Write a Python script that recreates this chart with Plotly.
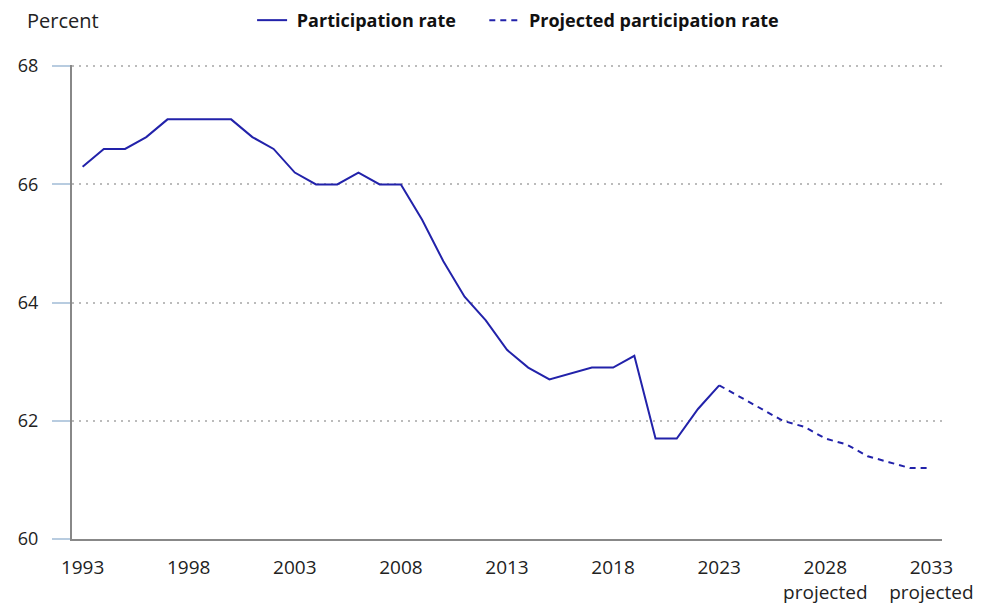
import plotly.graph_objects as go

years_actual = list(range(1993, 2024))
rate_actual = [66.3, 66.6, 66.6, 66.8, 67.1, 67.1, 67.1, 67.1, 66.8, 66.6,
               66.2, 66.0, 66.0, 66.2, 66.0, 66.0, 65.4, 64.7, 64.1, 63.7,
               63.2, 62.9, 62.7, 62.8, 62.9, 62.9, 63.1, 61.7, 61.7, 62.2,
               62.6]
years_proj = list(range(2023, 2034))
rate_proj = [62.6, 62.4, 62.2, 62.0, 61.9, 61.7, 61.6, 61.4, 61.3, 61.2, 61.2]

tick_vals = [1993, 1998, 2003, 2008, 2013, 2018, 2023, 2028, 2033]
tick_text = ["1993", "1998", "2003", "2008", "2013", "2018", "2023",
             "2028<br>projected", "2033<br>projected"]

color = "#2222AA"
font_family = "Open Sans, Noto Sans, sans-serif"
nb = "&nbsp;"

fig = go.Figure()
fig.add_trace(go.Scatter(x=years_actual, y=rate_actual, mode="lines",
                         name=nb + "<b>Participation rate</b>" + nb * 5,
                         line=dict(color=color, width=2)))
fig.add_trace(go.Scatter(x=years_proj, y=rate_proj, mode="lines",
                         name=nb + "<b>Projected participation rate</b>",
                         line=dict(color=color, width=2, dash="6px,5px")))

fig.update_layout(
    width=991, height=601,
    margin=dict(l=64, r=57, t=57, b=70, autoexpand=False),
    paper_bgcolor="white", plot_bgcolor="white",
    font=dict(family=font_family, size=18, color="#222222"),
    showlegend=True,
    legend=dict(orientation="h", x=0.207, xanchor="left", y=1.094, yanchor="middle",
                font=dict(size=18, color="#111111"), itemwidth=30,
                bgcolor="rgba(0,0,0,0)"),
    xaxis=dict(range=[1992.5, 2033.5], tickmode="array", tickvals=tick_vals,
               ticktext=tick_text, showgrid=False, zeroline=False,
               showline=True, linecolor="#888888", linewidth=2, ticks="",
               ticklabelstandoff=10,
               tickfont=dict(size=19, color="#222222"), automargin=False),
    yaxis=dict(range=[60, 68.02], tickmode="array", tickvals=[60, 62, 64, 66, 68],
               showgrid=True, gridcolor="#BBBBBB", griddash="2px,5px", gridwidth=1.5,
               zeroline=False, showline=True, linecolor="#888888", linewidth=2,
               ticks="outside", ticklen=18, tickcolor="#B8CCE0", tickwidth=2,
               ticklabelstandoff=10,
               tickfont=dict(size=18, color="#222222"), automargin=False),
    annotations=[dict(text="Percent", xref="paper", yref="paper", x=-0.054, y=1.0,
                      xanchor="left", yanchor="middle", yshift=45, showarrow=False,
                      font=dict(size=20, color="#222222"))],
)

fig.write_html("out.html")
